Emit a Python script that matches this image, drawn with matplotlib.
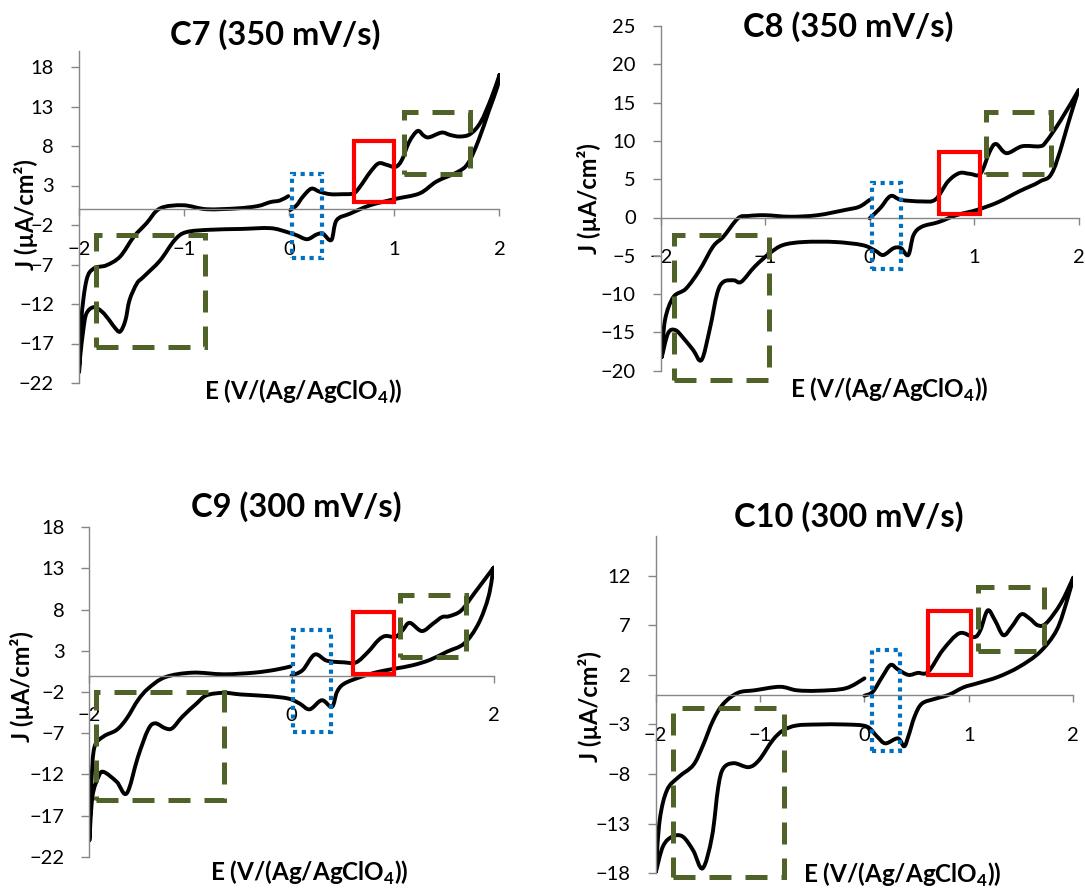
import matplotlib
matplotlib.use("Agg")
import matplotlib.pyplot as plt
from matplotlib.patches import Rectangle, PathPatch
from matplotlib.path import Path
import numpy as np

plt.rcParams['font.family'] = ['Lato', 'DejaVu Sans']
plt.rcParams['mathtext.fontset'] = 'custom'
plt.rcParams['mathtext.rm'] = 'Lato'
plt.rcParams['mathtext.bf'] = 'Lato:bold'

# ---------------- data ----------------
titles = ["C7 (350 mV/s)", "C8 (350 mV/s)", "C9 (300 mV/s)", "C10 (300 mV/s)"]

c7_E = [0.01, 0.07, 0.13, 0.21, 0.29, 0.39, 0.50, 0.61, 0.67, 0.77, 0.85, 0.93, 1.01, 1.07, 1.14, 1.22, 1.28,
        1.33, 1.45, 1.53, 1.62, 1.72, 1.82, 1.92, 2.0,
        1.98, 1.90, 1.80, 1.70, 1.60, 1.40, 1.24, 1.01, 0.77, 0.58, 0.45, 0.40, 0.32, 0.26, 0.17, 0.07, -0.02,
        -0.18, -0.46, -0.75, -0.98, -1.09, -1.23, -1.39, -1.45, -1.52, -1.56, -1.61, -1.66, -1.71, -1.78, -1.86,
        -1.93, -1.96, -1.99, -2.0,
        -1.98, -1.93, -1.86, -1.74, -1.61, -1.48, -1.36, -1.23, -1.01, -0.79, -0.50, -0.30, -0.18, -0.09, -0.01]
c7_J = [-0.1, 0.5, 1.6, 2.6, 2.2, 1.9, 1.9, 2.0, 2.8, 4.7, 5.8, 5.6, 5.35, 6.2, 8.5, 9.9, 9.3,
        9.1, 9.7, 9.4, 9.2, 9.5, 11.0, 14.0, 17.0,
        15.5, 12.5, 8.7, 5.8, 4.7, 3.5, 2.0, 1.3, 0.5, -0.55, -1.4, -3.9, -3.1, -3.2, -3.8, -3.3, -2.9,
        -2.4, -2.5, -2.6, -2.9, -3.9, -6.5, -8.6, -9.4, -11.5, -14.1, -15.5, -15.0, -14.1, -13.0, -12.4,
        -13.2, -15.3, -18.7, -20.6,
        -14.1, -9.0, -7.5, -7.1, -6.0, -3.5, -1.8, 0.1, 0.5, 0.0, 0.1, 0.4, 0.9, 1.1, 1.65]

c8_E = [0.0, 0.1, 0.2, 0.30, 0.50, 0.63, 0.75, 0.86, 0.96, 1.06, 1.15, 1.21, 1.31, 1.46, 1.63, 1.69, 1.83, 2.0,
        1.93, 1.76, 1.63, 1.43, 1.23, 1.03, 0.83, 0.66, 0.50, 0.42, 0.37, 0.30, 0.23, 0.13, 0.05, -0.07, -0.33,
        -0.63, -0.83, -0.96, -1.10, -1.23, -1.30, -1.40, -1.46, -1.53, -1.61, -1.69, -1.78, -1.86, -1.93, -1.99,
        -1.96, -1.88, -1.76, -1.63, -1.50, -1.40, -1.26, -1.16, -1.0, -0.76, -0.5, -0.23, -0.10, 0.0]
c8_J = [-0.1, 1.2, 2.8, 2.3, 2.1, 2.35, 4.7, 5.8, 5.7, 5.7, 8.6, 9.6, 8.4, 9.3, 9.3, 9.9, 12.7, 16.6,
        13.6, 6.2, 4.7, 3.4, 2.0, 1.0, 0.3, -0.6, -1.2, -2.3, -4.9, -4.0, -4.0, -4.9, -4.3, -3.6, -3.2,
        -3.2, -3.6, -4.7, -6.4, -8.4, -8.2, -8.4, -9.9, -14.5, -18.6, -17.3, -15.8, -14.7, -15.1, -18.2,
        -13.4, -10.4, -9.3, -6.9, -3.8, -2.5, -0.1, 0.2, 0.3, 0.1, 0.3, 1.0, 1.4, 2.3]

c9_E = [0.0, 0.11, 0.23, 0.35, 0.52, 0.64, 0.76, 0.86, 0.93, 1.03, 1.10, 1.17, 1.29, 1.40, 1.49, 1.56, 1.68, 1.81, 2.0,
        1.95, 1.85, 1.71, 1.54, 1.37, 1.20, 1.03, 0.86, 0.69, 0.52, 0.45, 0.40, 0.30, 0.18, 0.08, -0.03, -0.23,
        -0.50, -0.67, -0.84, -0.94, -1.08, -1.18, -1.25, -1.35, -1.42, -1.52, -1.63, -1.73, -1.86, -1.91, -1.97, -2.0,
        -1.98, -1.95, -1.86, -1.73, -1.63, -1.52, -1.42, -1.25, -0.98, -0.67, -0.37, -0.16, -0.01]
c9_J = [0.0, 0.65, 2.55, 1.8, 1.6, 1.6, 2.9, 4.3, 4.8, 4.7, 5.5, 6.4, 5.4, 6.3, 7.1, 7.2, 7.9, 10.0, 13.1,
        9.6, 6.3, 3.9, 2.9, 1.9, 1.25, 0.85, 0.45, -0.15, -1.0, -2.0, -3.8, -3.0, -4.1, -3.4, -2.8, -2.5,
        -2.3, -2.1, -2.4, -3.4, -5.0, -6.4, -6.4, -5.8, -6.6, -9.9, -14.3, -12.9, -11.7, -12.3, -14.7, -20.0,
        -13.0, -8.7, -7.4, -6.6, -5.2, -3.0, -1.6, -0.2, 0.35, 0.15, 0.35, 0.7, 1.1]

c10_E = [0.0, 0.08, 0.17, 0.25, 0.32, 0.42, 0.51, 0.61, 0.75, 0.91, 1.05, 1.11, 1.18, 1.25, 1.33, 1.41, 1.50, 1.58,
         1.66, 1.74, 1.88, 2.0,
         1.94, 1.84, 1.68, 1.48, 1.28, 1.08, 0.95, 0.81, 0.68, 0.55, 0.48, 0.42, 0.38, 0.32, 0.20, 0.12, 0.02,
         -0.18, -0.45, -0.65, -0.78, -0.88, -1.01, -1.11, -1.25, -1.35, -1.40, -1.46, -1.55, -1.64, -1.74, -1.84,
         -1.93, -2.0,
         -1.96, -1.89, -1.78, -1.64, -1.55, -1.45, -1.35, -1.21, -1.05, -0.81, -0.65, -0.45, -0.18, 0.0]
c10_J = [-0.1, 0.3, 1.8, 3.0, 2.55, 2.0, 2.2, 2.3, 4.5, 6.2, 5.8, 6.5, 8.5, 7.5, 6.0, 6.85, 8.1, 7.7,
         7.0, 7.2, 9.2, 11.8,
         9.5, 6.5, 4.3, 2.8, 1.8, 1.15, 0.75, 0.0, -0.4, -0.9, -2.2, -4.2, -5.2, -4.4, -4.9, -4.2, -3.2,
         -3.0, -3.0, -3.1, -3.6, -4.6, -6.6, -7.3, -6.9, -7.4, -9.3, -14.3, -17.5, -15.7, -14.3, -14.3,
         -15.3, -18.0,
         -12.6, -9.6, -8.3, -7.1, -5.2, -2.6, -0.9, 0.2, 0.45, 0.8, 0.45, 0.4, 0.65, 1.65]

curves_E = [c7_E, c8_E, c9_E, c10_E]
curves_J = [c7_J, c8_J, c9_J, c10_J]

y_limits = [(-22, 20), (-20, 25), (-22, 18), (-18, 16)]
y_tick_start = [-22, -20, -22, -18]
x_tick_step = [1, 1, 2, 1]

# highlight boxes (E0, E1, J0, J1)
green_boxes = [[(-1.84, -0.80, -17.4, -3.3), (1.09, 1.72, 4.4, 12.3)],
               [(-1.87, -0.96, -21.2, -2.3), (1.11, 1.74, 5.7, 13.8)],
               [(-1.93, -0.67, -15.1, -2.0), (1.07, 1.73, 2.2, 9.8)],
               [(-1.83, -0.77, -18.4, -1.3), (1.09, 1.72, 4.4, 10.9)]]
red_boxes = [(0.62, 1.0, 0.9, 8.65), (0.66, 1.06, 0.5, 8.6), (0.61, 1.01, 0.15, 7.7), (0.61, 1.02, 2.0, 8.4)]
blue_boxes = [(0.03, 0.31, -6.2, 4.5), (0.02, 0.30, -6.7, 4.5), (0.01, 0.39, -6.8, 5.5), (0.07, 0.34, -5.7, 4.5)]

xlabel = r"E (V/(Ag/AgClO$_{\mathbf{4}}$))"
ylabel = "J (\u00b5A/cm\u00b2)"


def smooth_path(xs, ys):
    """Smoothed-line rendering (like a spreadsheet 'smoothed line'), split at the scan reversals."""
    pts = np.column_stack([xs, ys]).astype(float)
    i_max = int(np.argmax(pts[:, 0]))
    i_min = int(np.argmin(pts[:, 0]))
    cuts = sorted({0, i_max, i_min, len(pts) - 1})
    verts, codes = [], []
    for a, b in zip(cuts[:-1], cuts[1:]):
        seg = pts[a:b + 1]
        verts.append(seg[0]); codes.append(Path.MOVETO)
        n = len(seg)
        for k in range(n - 1):
            p0 = seg[k - 1] if k > 0 else seg[k]
            p1 = seg[k]
            p2 = seg[k + 1]
            p3 = seg[k + 2] if k + 2 < n else seg[k + 1]
            verts += [p1 + (p2 - p0) / 6.0, p2 - (p3 - p1) / 6.0, p2]
            codes += [Path.CURVE4] * 3
    return Path(np.array(verts), codes)


# ---------------- layout ----------------
W, H = 1085, 890
fig = plt.figure(figsize=(W / 100, H / 100), dpi=100)

# axes boxes in pixels: left, right, top, bottom
ax_px = [(79.1, 499.5, 51.2, 383.0),
         (660.8, 1078.5, 26.0, 370.7),
         (89.4, 493.6, 527.3, 856.7),
         (655.6, 1073.3, 536.0, 873.3)]
title_px = [(275, 45), (848, 37), (296.5, 517), (849, 527)]
xlab_px = [(303, 400), (889, 398), (309, 881), (902, 883)]
ylab_px = [(26, 215), (589, 199), (22.5, 687), (590, 707)]

axis_gray = '#868686'
green = '#4f6228'
red = '#ff0000'
blue = '#0070c0'

for i in range(4):
    l, r, t, b = ax_px[i]
    ax = fig.add_axes([l / W, 1 - b / H, (r - l) / W, (b - t) / H])
    ax.set_facecolor('none')
    ax.add_patch(PathPatch(smooth_path(curves_E[i], curves_J[i]), fill=False, edgecolor='black',
                           lw=2.8, joinstyle='round', capstyle='round', zorder=2))
    ax.set_xlim(-2, 2)
    ax.set_ylim(*y_limits[i])
    ax.set_yticks(list(range(y_tick_start[i], int(y_limits[i][1]) + 1, 5)))
    ax.set_xticks(list(range(-2, 3, x_tick_step[i])))
    ax.spines['top'].set_visible(False)
    ax.spines['right'].set_visible(False)
    ax.spines['bottom'].set_position(('data', 0))
    for s in ('left', 'bottom'):
        ax.spines[s].set_color(axis_gray)
        ax.spines[s].set_linewidth(1.0)
    ax.tick_params(axis='y', direction='out', length=6, width=1, color=axis_gray,
                   labelsize=14.5, pad=12, labelcolor='black')
    ax.tick_params(axis='x', direction='out', length=5, width=1, color=axis_gray,
                   labelsize=14.5, pad=18, labelcolor='black')

    for (x0, x1, y0, y1) in green_boxes[i]:
        ax.add_patch(Rectangle((x0, y0), x1 - x0, y1 - y0, fill=False, edgecolor=green,
                               lw=3.6, linestyle=(0, (4.4, 2.8)), capstyle='butt',
                               clip_on=False, zorder=4))
    x0, x1, y0, y1 = red_boxes[i]
    ax.add_patch(Rectangle((x0, y0), x1 - x0, y1 - y0, fill=False, edgecolor=red,
                           lw=3.0, clip_on=False, zorder=4, joinstyle='miter'))
    x0, x1, y0, y1 = blue_boxes[i]
    ax.add_patch(Rectangle((x0, y0), x1 - x0, y1 - y0, fill=False, edgecolor=blue,
                           lw=3.0, linestyle=(0, (1, 1.1)), capstyle='butt',
                           clip_on=False, zorder=4))

    tx, ty = title_px[i]
    fig.text(tx / W, 1 - ty / H, titles[i], ha='center', va='baseline',
             fontsize=23.5, fontweight='bold')
    xx, xy = xlab_px[i]
    fig.text(xx / W, 1 - xy / H, xlabel, ha='center', va='baseline',
             fontsize=17.5, fontweight='bold')
    yx, yy = ylab_px[i]
    fig.text(yx / W, 1 - yy / H, ylabel, ha='center', va='center', rotation=90,
             fontsize=17, fontweight='bold')

fig.savefig('out.png', dpi=100)
